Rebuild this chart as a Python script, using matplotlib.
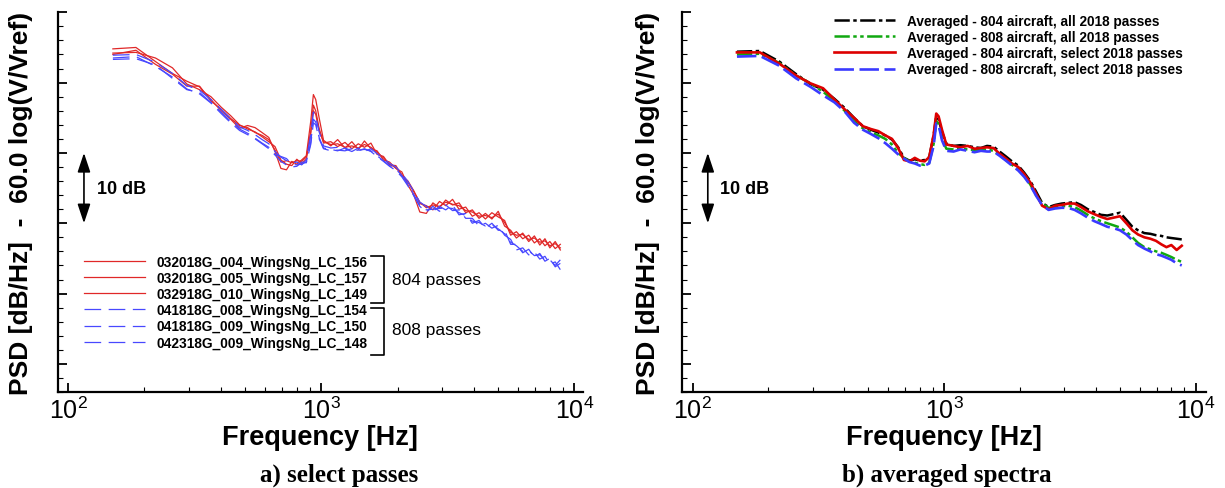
import numpy as np
import matplotlib
matplotlib.use("Agg")
import matplotlib.pyplot as plt
from matplotlib.ticker import LogLocator, MultipleLocator, NullFormatter

plt.rcParams['font.family'] = ['Liberation Sans', 'DejaVu Sans']
plt.rcParams['lines.scale_dashes'] = False

# frequency grid [Hz]
freq = [150, 185, 221, 258, 294, 330, 366, 402, 438, 475, 511, 547, 583, 620, 656, 692,
        728, 764, 800, 836, 872, 908, 930, 950, 980, 1020, 1090, 1160, 1240, 1320, 1400, 1480,
        1570, 1660, 1760, 1860, 1970, 2080, 2200, 2320, 2450, 2600, 2760, 2930, 3100, 3300, 3500, 3720,
        3950, 4200, 4450, 4720, 5000, 5300, 5600, 5900, 6250, 6600, 6950, 7300, 7650, 8000, 8400, 8800]

# a) select passes, 804 aircraft
p156 = [44.8, 45.0, 43.0, 41.3, 40.2, 39.4, 37.6, 36.0, 34.8, 33.5, 33.9, 33.6, 32.9, 32.2, 30.2, 27.8,
        27.6, 28.8, 28.4, 29.0, 29.6, 34.5, 38.3, 37.6, 35.0, 31.8, 31.0, 31.9, 30.7, 31.6, 30.5, 31.7,
        30.6, 30.3, 29.0, 28.7, 27.8, 27.3, 25.4, 24.0, 21.6, 21.4, 22.9, 22.2, 23.3, 22.6, 22.9, 21.5,
        21.9, 20.7, 21.4, 20.6, 21.7, 19.6, 19.0, 17.9, 18.6, 17.4, 18.2, 16.9, 17.8, 16.5, 17.4, 16.2]
p157 = [44.2, 44.3, 43.5, 42.1, 39.8, 39.0, 38.0, 36.5, 35.3, 34.0, 33.4, 33.0, 32.3, 31.6, 30.9, 29.0,
        28.4, 28.2, 29.1, 28.5, 29.1, 32.8, 36.8, 36.0, 33.5, 31.4, 31.6, 30.9, 31.5, 30.6, 31.3, 30.8,
        31.4, 29.8, 29.5, 28.3, 28.2, 26.8, 26.0, 24.6, 22.8, 22.5, 21.9, 23.1, 22.5, 23.4, 22.0, 22.3,
        21.0, 21.5, 20.6, 21.5, 20.9, 20.4, 18.3, 18.8, 17.8, 18.3, 17.2, 17.8, 16.8, 17.4, 16.4, 17.0]
p149 = [44.0, 44.6, 42.6, 41.2, 39.5, 39.5, 37.4, 36.2, 34.9, 33.9, 33.6, 32.9, 32.5, 31.9, 30.4, 28.7,
        28.9, 28.6, 28.9, 28.8, 29.4, 33.0, 36.0, 35.5, 33.2, 31.6, 31.2, 31.3, 30.8, 31.0, 30.7, 31.2,
        30.8, 30.1, 29.3, 28.4, 27.9, 26.9, 25.8, 24.5, 23.0, 22.2, 22.6, 22.4, 23.0, 22.7, 22.5, 21.8,
        21.6, 21.0, 21.1, 20.8, 21.3, 20.1, 18.7, 18.3, 18.4, 17.7, 17.9, 17.3, 17.5, 16.8, 17.1, 16.5]

# a) select passes, 808 aircraft
p154 = [43.9, 44.0, 42.9, 41.3, 39.6, 38.9, 37.6, 36.2, 34.9, 33.7, 33.2, 32.6, 31.9, 31.3, 30.2, 29.4,
        28.9, 28.6, 28.7, 28.3, 29.0, 32.6, 35.8, 35.2, 33.0, 31.0, 30.7, 30.8, 30.6, 30.2, 30.7, 30.2,
        30.6, 29.9, 29.2, 28.5, 28.0, 27.1, 25.9, 24.5, 23.0, 22.4, 21.7, 22.4, 21.9, 22.6, 21.2, 21.4,
        20.0, 20.4, 19.3, 20.0, 19.0, 19.0, 17.0, 17.0, 15.8, 16.3, 15.2, 15.7, 14.6, 15.0, 13.8, 14.3]
p150 = [43.5, 43.7, 42.3, 40.8, 39.1, 38.4, 37.1, 35.6, 34.3, 33.2, 32.6, 32.0, 31.3, 30.6, 29.7, 28.8,
        28.3, 28.0, 28.1, 28.7, 28.6, 31.2, 34.3, 34.0, 32.0, 30.6, 30.3, 30.4, 30.3, 30.6, 30.3, 30.6,
        30.2, 29.5, 28.8, 28.1, 27.5, 26.6, 25.3, 23.9, 22.4, 21.6, 22.4, 21.7, 22.6, 21.8, 21.9, 20.7,
        20.7, 19.6, 20.0, 19.3, 19.7, 18.3, 17.7, 16.2, 16.5, 15.5, 15.9, 14.9, 15.3, 14.2, 14.5, 13.4]
p148 = [43.3, 43.4, 42.5, 40.6, 39.0, 38.6, 37.2, 35.8, 34.5, 33.4, 32.8, 32.1, 31.4, 30.8, 29.8, 29.5,
        29.2, 28.4, 28.3, 28.4, 28.7, 31.5, 34.8, 34.4, 32.2, 30.7, 30.5, 30.3, 30.7, 30.3, 30.4, 30.5,
        30.3, 29.6, 28.9, 28.2, 27.7, 26.8, 25.5, 24.1, 22.5, 21.9, 22.0, 22.1, 22.2, 22.1, 21.5, 21.1,
        20.3, 20.1, 19.6, 19.8, 19.2, 18.5, 17.3, 16.8, 16.0, 16.1, 15.4, 15.5, 14.8, 14.8, 14.0, 14.8]

# b) averaged spectra
avg804_all = [44.4, 44.5, 43.0, 41.2, 39.8, 39.0, 37.7, 36.4, 35.0, 33.8, 33.3, 32.9, 32.5, 31.9, 30.8, 29.3,
              28.9, 29.1, 28.9, 29.0, 29.4, 32.5, 35.2, 34.8, 33.0, 31.3, 31.0, 31.1, 31.0, 30.8, 30.7, 31.0,
              30.9, 30.2, 29.5, 28.8, 28.2, 27.2, 26.0, 24.5, 22.9, 22.3, 22.6, 22.8, 22.9, 23.0, 22.6, 22.0,
              21.6, 21.2, 21.1, 21.3, 21.5, 20.5, 19.5, 19.0, 18.6, 18.5, 18.3, 18.2, 18.0, 17.9, 17.8, 17.7]
avg808_all = [44.0, 44.1, 42.8, 41.0, 39.9, 38.7, 37.4, 36.0, 34.5, 33.5, 32.9, 32.5, 32.0, 31.2, 30.0, 29.3,
              28.8, 28.6, 28.4, 28.3, 28.6, 31.3, 34.5, 34.2, 32.0, 30.6, 30.5, 30.6, 30.5, 30.4, 30.4, 30.5,
              30.3, 29.7, 29.0, 28.3, 27.7, 26.8, 25.5, 24.0, 22.8, 22.2, 22.3, 22.4, 22.5, 22.3, 21.8, 21.2,
              20.7, 20.3, 20.0, 19.7, 19.4, 18.8, 18.0, 17.2, 16.6, 16.3, 16.0, 15.8, 15.5, 15.2, 14.8, 14.5]
avg804_sel = [44.3, 44.3, 42.7, 41.0, 39.9, 39.2, 37.6, 36.2, 35.0, 33.8, 33.4, 33.1, 32.5, 32.0, 30.7, 29.0,
              28.8, 29.3, 28.9, 28.8, 29.4, 32.6, 35.6, 35.2, 33.3, 31.2, 31.0, 30.8, 31.0, 30.6, 30.7, 30.8,
              30.7, 29.9, 29.2, 28.5, 28.0, 27.0, 25.8, 24.2, 22.5, 22.0, 22.5, 22.6, 22.8, 22.8, 22.3, 21.7,
              21.3, 20.9, 20.6, 20.8, 21.0, 20.0, 19.0, 18.4, 18.0, 17.8, 17.5, 17.0, 16.6, 16.9, 16.2, 16.8]
avg808_sel = [43.7, 43.8, 42.4, 40.6, 39.4, 38.2, 37.2, 35.9, 34.3, 33.3, 32.7, 32.1, 31.4, 30.6, 29.8, 29.2,
              28.7, 28.5, 28.2, 28.2, 28.5, 31.0, 34.2, 34.0, 31.8, 30.3, 30.2, 30.5, 30.3, 30.1, 30.3, 30.2,
              30.2, 29.6, 28.9, 28.2, 27.5, 26.6, 25.4, 23.9, 22.6, 21.9, 22.1, 22.2, 22.2, 21.9, 21.4, 20.8,
              20.3, 19.9, 19.5, 19.3, 19.0, 18.4, 17.6, 16.9, 16.4, 16.0, 15.6, 15.4, 15.1, 14.8, 14.3, 14.0]

labels_804 = ['032018G_004_WingsNg_LC_156', '032018G_005_WingsNg_LC_157', '032918G_010_WingsNg_LC_149']
labels_808 = ['041818G_008_WingsNg_LC_154', '041818G_009_WingsNg_LC_150', '042318G_009_WingsNg_LC_148']
labels_avg = ['Averaged - 804 aircraft, all 2018 passes', 'Averaged - 808 aircraft, all 2018 passes',
              'Averaged - 804 aircraft, select 2018 passes', 'Averaged - 808 aircraft, select 2018 passes']

fig = plt.figure(figsize=(12.25, 4.89), dpi=100)
ax1 = fig.add_axes([0.0471, 0.1963, 0.4288, 0.7765])
ax2 = fig.add_axes([0.5564, 0.1963, 0.4279, 0.7765])


def style(ax, xlim, ylab_x):
    ax.set_xscale('log')
    ax.set_xlim(*xlim)
    ax.set_ylim(-4, 50)
    for s in ['top', 'right']:
        ax.spines[s].set_visible(False)
    for s in ['left', 'bottom']:
        ax.spines[s].set_linewidth(1.6)
    ax.yaxis.set_major_locator(MultipleLocator(10))
    ax.yaxis.set_minor_locator(MultipleLocator(2))
    ax.xaxis.set_major_locator(LogLocator(base=10, numticks=10))
    ax.xaxis.set_minor_locator(LogLocator(base=10, subs=range(2, 10), numticks=10))
    ax.xaxis.set_minor_formatter(NullFormatter())
    ax.tick_params(labelleft=False)
    ax.tick_params(which='major', direction='in', length=6.5, width=1.3, labelsize=18, pad=3)
    ax.tick_params(which='minor', direction='in', length=3.6, width=0.8)
    ax.set_xlabel('Frequency [Hz]', fontsize=19.5, fontweight='bold')
    ax.xaxis.set_label_coords(0.5, -0.085)
    ax.set_ylabel('PSD [dB/Hz]  -  60.0 log(V/Vref)', fontsize=19, fontweight='bold')
    ax.yaxis.set_label_coords(ylab_x, 0.5)
    # 10 dB scale arrow
    tr = ax.get_yaxis_transform()
    ax.annotate('', xy=(0.05, 20), xytext=(0.05, 30), xycoords=tr, textcoords=tr,
                arrowprops=dict(arrowstyle='<|-|>,head_length=0.9,head_width=0.3', color='k',
                                lw=1.2, mutation_scale=13, shrinkA=0, shrinkB=0))
    ax.text(0.074, 25, '10 dB', transform=tr, fontsize=13, fontweight='bold', va='center')


style(ax1, (10 ** 1.958, 10 ** 4.034), -0.047)
style(ax2, (10 ** 1.956, 10 ** 4.040), -0.042)

# panel a
red = '#e02828'
blue = '#4848ff'
h = []
for y, lab in zip([p156, p157, p149], labels_804):
    h += ax1.plot(freq, y, color=red, lw=0.9, label=lab)
for y, lab in zip([p154, p150, p148], labels_808):
    h += ax1.plot(freq, y, color=blue, lw=0.9, dashes=(12, 5.4), label=lab)
ax1.legend(handles=h, loc='upper left', bbox_to_anchor=(0.05, 0.362), frameon=False,
           prop={'size': 9.9, 'weight': 'bold'}, handlelength=4.45, handletextpad=0.85,
           labelspacing=0.16, borderpad=0, borderaxespad=0)

# brackets grouping the passes
for top, bot, txt, ty in [(0.359, 0.2336, '804 passes', 0.2958), (0.2212, 0.0974, '808 passes', 0.164)]:
    ax1.plot([0.5964, 0.621, 0.621, 0.5964], [top, top, bot, bot], color='k', lw=1.2,
             transform=ax1.transAxes, clip_on=False)
    ax1.text(0.636, ty, txt, transform=ax1.transAxes, fontsize=12.5, va='center')

# panel b
ax2.plot(freq, avg804_all, color='k', lw=1.8, dashes=(11, 2.5, 2.5, 2.5), label=labels_avg[0])
ax2.plot(freq, avg808_all, color='#10a810', lw=1.8, dashes=(11, 2.5, 2.5, 2.5, 2.5, 2.5), label=labels_avg[1])
ax2.plot(freq, avg804_sel, color='#dd0000', lw=1.9, label=labels_avg[2])
ax2.plot(freq, avg808_sel, color='#3a3aff', lw=1.9, dashes=(14, 4), label=labels_avg[3])
ax2.legend(loc='upper left', bbox_to_anchor=(0.291, 0.996), frameon=False,
           prop={'size': 9.8, 'weight': 'bold'}, handlelength=4.5, handletextpad=0.83,
           labelspacing=0.16, borderpad=0, borderaxespad=0)

fig.text(0.277, 0.0286, 'a) select passes', ha='center', va='center', fontsize=18,
         fontweight='bold', family=['Liberation Serif', 'DejaVu Serif'])
fig.text(0.773, 0.0286, 'b) averaged spectra', ha='center', va='center', fontsize=18,
         fontweight='bold', family=['Liberation Serif', 'DejaVu Serif'])

fig.savefig('out.png', dpi=100)
